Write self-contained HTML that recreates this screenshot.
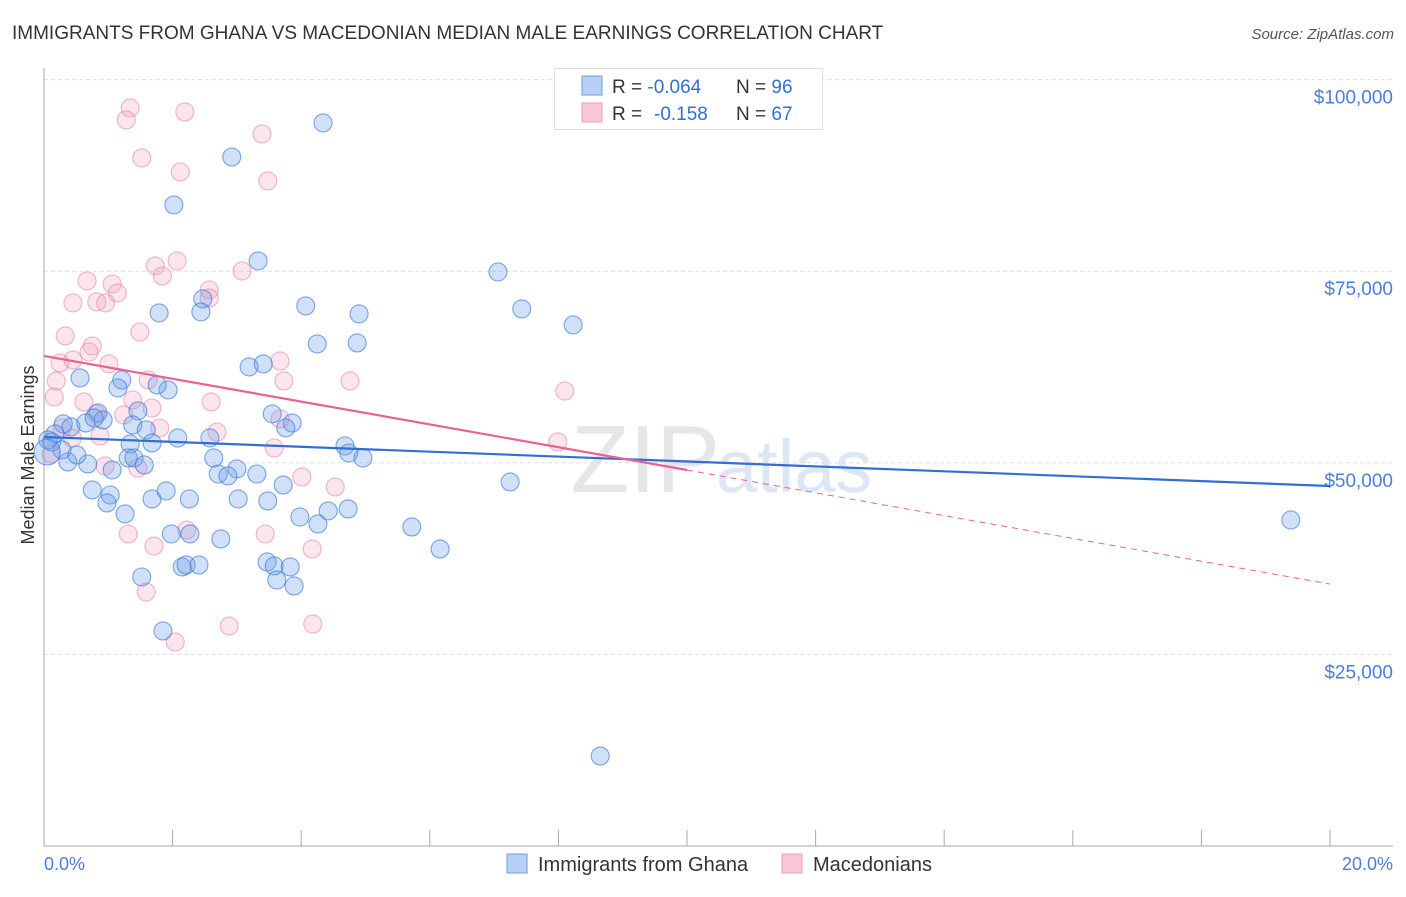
<!DOCTYPE html>
<html><head><meta charset="utf-8"><style>
body{margin:0;background:#fff;font-family:"Liberation Sans",sans-serif}
svg text{font-family:"Liberation Sans",sans-serif}
</style></head><body>
<svg id="chart" width="1406" height="892" viewBox="0 0 1406 892">
<text x="12" y="39" font-size="19" fill="#333">IMMIGRANTS FROM GHANA VS MACEDONIAN MEDIAN MALE EARNINGS CORRELATION CHART</text>
<text x="1394" y="39" font-size="15" font-style="italic" fill="#555" text-anchor="end">Source: ZipAtlas.com</text>
<text x="720" y="492" font-size="96" fill="#e6e6ea" text-anchor="end" font-family="Liberation Serif">ZIP</text>
<text x="716" y="492" font-size="74" fill="#dde6f4">atlas</text>
<g id="grid"></g><g id="axes"></g><g id="pts"></g><g id="lines"></g>
<text transform="translate(34,455) rotate(-90)" font-size="18" fill="#333" text-anchor="middle">Median Male Earnings</text>
<text x="44" y="870" font-size="18" fill="#4a7fd8">0.0%</text>
<text x="1393" y="870" font-size="18" fill="#4a7fd8" text-anchor="end">20.0%</text>
<g>
<rect x="554.5" y="68.5" width="268" height="61" fill="#fff" stroke="#ddd"/>
<rect x="582" y="76" width="20" height="19" fill="#b7d0f4" stroke="#6f9de3"/>
<rect x="582" y="103" width="20" height="19" fill="#f8c7d6" stroke="#eaa0b8"/>
<text x="612" y="93" font-size="19" fill="#333">R = <tspan fill="#2f6fd6">-0.064</tspan><tspan x="736">N = </tspan><tspan fill="#2f6fd6">96</tspan></text>
<text x="612" y="120" font-size="19" fill="#333">R = <tspan x="654" fill="#2f6fd6">-0.158</tspan><tspan x="736">N = </tspan><tspan fill="#2f6fd6">67</tspan></text>
</g>
<g>
<rect x="507" y="854" width="20" height="19" fill="#b7d0f4" stroke="#6f9de3"/>
<text x="538" y="871" font-size="20" fill="#333">Immigrants from Ghana</text>
<rect x="782" y="854" width="20" height="19" fill="#f8c7d6" stroke="#eaa0b8"/>
<text x="813" y="871" font-size="20" fill="#333">Macedonians</text>
</g>
</svg>
<script>
const yTicks=[25000,50000,75000,100000];
const yTickLabels=["$25,000","$50,000","$75,000","$100,000"];
const xTicks=[0,2,4,6,8,10,12,14,16,18,20];
const ghanaX=[4.34,2.92,2.02,3.33,7.06,2.47,4.07,7.43,1.79,2.44,4.90,8.23,4.25,4.87,3.19,3.41,0.56,1.21,1.15,1.93,1.76,0.84,1.46,3.55,3.86,3.76,0.30,0.42,0.65,0.92,0.78,0.17,0.06,0.12,1.38,1.59,2.08,2.58,1.34,1.68,4.68,4.74,4.96,7.25,0.37,0.68,1.06,1.31,1.40,1.56,2.64,3.00,2.71,2.86,3.31,3.72,0.75,1.03,0.98,1.68,1.90,2.26,3.02,3.48,1.26,3.98,4.42,4.73,4.26,5.72,1.98,2.27,2.75,6.16,1.52,2.15,2.21,2.41,3.47,3.58,3.83,3.62,3.89,1.85,8.65,19.39,0.28,0.51,0.05];
const ghanaY=[94350,89900,83650,76340,74900,71380,70470,70080,69560,69690,69430,67990,65510,65640,62510,62900,61070,60810,59770,59510,60160,56510,56770,56380,55200,54550,55070,54680,55200,55590,55850,53770,52980,52720,54940,54290,53240,53240,52460,52590,52200,51280,50630,47500,50110,49850,49070,50630,50630,49720,50630,49200,48540,48290,48540,47110,46460,45800,44760,45280,46330,45280,45280,45020,43330,42930,43720,43980,42020,41630,40720,40720,40060,38760,35100,36410,36670,36670,37060,36540,36410,34710,33930,28060,11740,42540,51680,51020,51400];
const macX=[1.34,1.28,2.19,3.39,1.52,2.12,3.48,1.73,2.07,1.84,3.08,2.57,0.67,1.06,0.45,0.82,0.96,1.49,0.33,2.57,1.14,0.75,0.70,0.25,0.45,1.01,3.67,3.73,4.76,8.10,1.62,0.19,0.16,0.62,1.38,0.81,1.24,2.60,1.68,3.67,7.99,0.44,0.87,1.80,0.28,2.69,0.11,0.95,1.46,3.58,4.01,4.53,1.31,1.71,2.22,3.44,4.17,1.59,2.88,4.18,2.04];
const macY=[96300,94740,95780,92910,89780,87950,86780,75690,76340,74380,75030,72550,73730,73340,70860,70990,70860,67070,66550,71510,72160,65240,64460,63030,63420,62900,63290,60680,60680,59370,60810,60680,58590,57940,58200,56370,56240,57940,57150,55720,52720,53240,53500,54540,54540,54020,51150,49580,49320,51930,48150,46840,40710,39140,41230,40710,38750,33140,28700,28970,26620];
const ghanaTrend=[53370,46970];
const macTrend=[63940,34180];
const NS="http://www.w3.org/2000/svg";
const X=v=>44+v*64.3, Y=v=>846-v*191.6/25000;
function mk(t,a,p){const e=document.createElementNS(NS,t);for(const k in a)e.setAttribute(k,a[k]);p.appendChild(e);return e;}
const grid=document.getElementById('grid'),axes=document.getElementById('axes'),pts=document.getElementById('pts'),lines=document.getElementById('lines');
yTicks.forEach((t,i)=>{
 const l=mk('line',{x1:44,x2:1393,y1:Y(t),y2:Y(t),stroke:'#ddd','stroke-dasharray':'4,3'},grid);
 
 
 const tx=mk('text',{x:1393,y:Y(t)+24,'font-size':19,fill:'#4a7fd8','text-anchor':'end'},grid);
 tx.textContent=yTickLabels[i];
 
 
});
const ya=mk('line',{x1:44,x2:44,y1:68,y2:846,stroke:'#aaa'},axes);


const xa=mk('line',{x1:44,x2:1393,y1:846,y2:846,stroke:'#aaa'},axes);


xTicks.forEach(t=>{
 const l=mk('line',{x1:X(t),x2:X(t),y1:830,y2:846,stroke:'#aaa'},axes);
 
 
});
macX.forEach((v,i)=>{
 const c=mk('circle',{cx:X(v),cy:Y(macY[i]),r:9,fill:'rgba(244,160,188,0.28)',stroke:'rgba(232,130,165,0.6)','stroke-width':1.1},pts);
 
 
});
ghanaX.forEach((v,i)=>{
 const c=mk('circle',{cx:X(v),cy:Y(ghanaY[i]),r:i==ghanaX.length-1?13:9,fill:'rgba(110,160,232,0.32)',stroke:'rgba(60,120,215,0.65)','stroke-width':1.1},pts);
 
 
});
const bl=mk('line',{x1:X(0),y1:Y(ghanaTrend[0]),x2:X(20),y2:Y(ghanaTrend[1]),stroke:'#2f6fd6','stroke-width':2.2},lines);


const mid=(macTrend[0]+macTrend[1])/2;
const pl=mk('line',{x1:X(0),y1:Y(macTrend[0]),x2:X(10),y2:Y(mid),stroke:'#e8638f','stroke-width':2.2},lines);


const pd=mk('line',{x1:X(10),y1:Y(mid),x2:X(20),y2:Y(macTrend[1]),stroke:'#e8638f','stroke-width':1,'stroke-dasharray':'6,5'},lines);


</script>
</body></html>
